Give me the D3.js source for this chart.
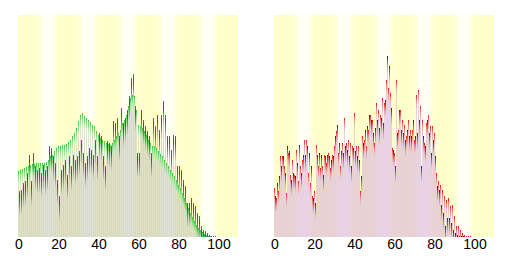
<!DOCTYPE html>
<html>
<head>
<meta charset="utf-8">
<script src="https://cdn.jsdelivr.net/npm/d3@7"></script>
<style>
  html, body { margin: 0; padding: 0; background: #fff; }
  svg { display: block; }
</style>
</head>
<body>
<div id="chart"></div>
<script>
// age categories 0..109 (plot runs to 110, data stops at 100)
const ages = d3.range(0, 110);
const tickLabels = [0, 20, 40, 60, 80, 100];

// left panel: whole country (green) vs the town (purple)
const japan = [197, 200, 203, 206, 209, 212, 215, 218, 220, 222,
  222, 222, 222, 223, 225, 232, 242, 247, 257, 267,
  272, 274, 275, 276, 280, 284, 292, 302, 312, 327,
  347, 367, 372, 364, 357, 350, 344, 337, 332, 317,
  307, 297, 292, 287, 282, 280, 277, 282, 292, 302,
  312, 322, 342, 352, 367, 392, 417, 427, 422, 382,
  337, 332, 327, 317, 307, 292, 282, 274, 272, 267,
  257, 250, 242, 232, 222, 212, 202, 192, 182, 172,
  157, 147, 132, 117, 102, 87, 72, 60, 47, 37,
  27, 20, 14, 9, 6, 4, 2, 1, 1, 0, 0];

const town = [137, 142, 162, 167, 192, 247, 167, 252, 212, 202,
  207, 192, 217, 202, 212, 272, 267, 242, 222, 172,
  122, 202, 217, 232, 187, 242, 212, 247, 232, 242,
  257, 292, 252, 222, 242, 267, 262, 247, 292, 242,
  312, 302, 242, 212, 287, 282, 272, 347, 342, 357,
  302, 387, 342, 357, 382, 422, 477, 490, 392, 252,
  252, 382, 352, 332, 317, 302, 252, 357, 332, 367,
  322, 367, 407, 367, 302, 302, 262, 307, 302, 212,
  212, 202, 172, 152, 102, 102, 117, 102, 92, 72,
  62, 32, 22, 17, 12, 7, 4, 2, 2, 1, 1];

// right panel: men (blue) and women (red) of the town
const male = [122, 162, 182, 212, 242, 192, 272, 257, 172, 192,
  182, 222, 277, 192, 247, 247, 272, 252, 212, 117,
  102, 247, 252, 247, 187, 242, 247, 242, 232, 242,
  302, 337, 282, 257, 252, 272, 262, 242, 212, 267,
  257, 242, 232, 182, 282, 322, 332, 367, 352, 312,
  327, 352, 327, 357, 342, 412, 544, 512, 387, 262,
  212, 312, 382, 322, 312, 292, 322, 302, 302, 352,
  302, 312, 352, 212, 302, 272, 352, 312, 252, 292,
  242, 152, 142, 97, 72, 32, 57, 57, 42, 22,
  12, 7, 2, 4, 2, 0, 0, 0, 0, 0, 0];

const female = [147, 117, 137, 242, 242, 212, 132, 252, 187, 232,
  187, 262, 167, 212, 232, 292, 292, 192, 162, 122,
  137, 277, 212, 207, 212, 247, 222, 252, 207, 247,
  272, 317, 252, 212, 282, 357, 282, 292, 282, 272,
  372, 272, 272, 137, 302, 292, 272, 322, 367, 352,
  282, 402, 382, 367, 417, 402, 472, 447, 432, 267,
  252, 472, 322, 382, 352, 337, 302, 352, 322, 322,
  292, 427, 442, 392, 352, 282, 342, 367, 332, 332,
  312, 192, 167, 157, 142, 122, 112, 117, 92, 97,
  62, 32, 32, 22, 12, 7, 4, 2, 2, 1, 1];

const svgWidth = 512;
const svgHeight = 256;
const plotTop = 15;
const plotBottom = 237;
const plotWidth = 220;

const svg = d3.select("#chart")
  .append("svg")
  .attr("width", svgWidth)
  .attr("height", svgHeight)
  .attr("viewBox", [0, 0, svgWidth, svgHeight])
  .attr("shape-rendering", "crispEdges");

const x = d3.scaleBand().domain(ages).range([0, plotWidth]).padding(0);
const y = d3.scaleLinear().domain([0, 666]).range([plotBottom, plotTop]);

const defs = svg.append("defs");
const band = defs.append("linearGradient").attr("id", "band");
band.selectAll("stop")
  .data([[0, "#ffffcc"], [0.25, "#fffff2"], [0.7, "#fffff5"], [1, "#ffffcc"]])
  .join("stop")
  .attr("offset", d => d[0])
  .attr("stop-color", d => d[1]);

// colour of a bar at k pixels below its top
function tipColor(stops, t) {
  for (let i = 1; i < stops.length; i++) {
    if (t <= stops[i][0]) {
      const [t0, c0] = stops[i - 1];
      const [t1, c1] = stops[i];
      return d3.interpolateRgb(c0, c1)((t - t0) / (t1 - t0));
    }
  }
  return stops[stops.length - 1][1];
}

function drawPanel(left, series, styles) {
  const g = svg.append("g").attr("transform", `translate(${left},0)`);

  // striped background, lighter every other decade
  g.append("g")
    .selectAll("rect")
    .data(d3.range(0, 110, 10))
    .join("rect")
    .attr("x", d => x(d))
    .attr("y", plotTop)
    .attr("width", x.bandwidth() * 10)
    .attr("height", plotBottom - plotTop)
    .attr("fill", d => (d / 10) % 2 ? "url(#band)" : "#ffffcc");

  series.forEach((values, i) => {
    const st = styles[i];
    const rows = values
      .map((v, a) => ({ age: a, value: v, top: Math.round(y(v)) }))
      .filter(d => d.value > 0);

    // pale body of every bar
    g.append("g")
      .selectAll("rect")
      .data(rows)
      .join("rect")
      .attr("x", d => x(d.age) + st.dx)
      .attr("y", d => d.top)
      .attr("width", 1)
      .attr("height", d => plotBottom - d.top)
      .attr("fill", st.body)
      .attr("fill-opacity", 0.6);

    // coloured tip, one pixel row at a time
    const tips = rows.flatMap(d =>
      d3.range(Math.min(st.tip, plotBottom - d.top)).map(k => ({ age: d.age, y: d.top + k, k }))
    );
    g.append("g")
      .selectAll("rect")
      .data(tips)
      .join("rect")
      .attr("x", d => x(d.age) + st.dx)
      .attr("y", d => d.y)
      .attr("width", 1)
      .attr("height", 1)
      .attr("fill", d => tipColor(st.stops, d.k / st.tip))
      .attr("fill-opacity", d => 1 - 0.6 * (d.k / st.tip));
  });

  const axis = d3.axisBottom(x)
    .tickValues(tickLabels)
    .tickSize(0)
    .tickPadding(0);

  const ax = g.append("g")
    .attr("transform", `translate(0,${plotBottom})`)
    .call(axis);
  ax.select(".domain").remove();
  ax.selectAll("text")
    .attr("dy", 0)
    .attr("y", 12)
    .attr("font-family", "'Liberation Sans', Arial, sans-serif")
    .attr("font-size", 14)
    .attr("fill", "#000");
}

drawPanel(18, [japan, town], [
  { dx: 0, body: "#c8d0bc", tip: 15, stops: [[0, "#3cc83c"], [0.3, "#70d870"], [0.7, "#bce8b4"], [1, "#e4ecd8"]] },
  { dx: 1, body: "#bdbdb4", tip: 24, stops: [[0, "#a83aa8"], [0.25, "#4a2a4a"], [0.6, "#5a5a56"], [1, "#c4c4bc"]] }
]);

drawPanel(274, [female, male], [
  { dx: 0, body: "#dcb4d4", tip: 14, stops: [[0, "#f01818"], [0.4, "#e87070"], [1, "#e6c4d4"]] },
  { dx: 1, body: "#d4b4e0", tip: 16, stops: [[0, "#1414c8"], [0.4, "#5a4ad8"], [1, "#dcc4e0"]] }
]);
</script>
</body>
</html>
